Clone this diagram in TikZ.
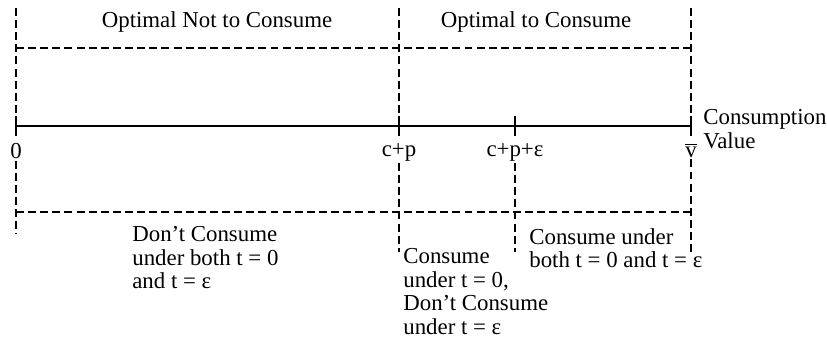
\documentclass[tikz,border=0pt]{standalone}
\usepackage{fontspec}
\setmainfont{Liberation Serif}
\usetikzlibrary{positioning, calc}

\begin{document}
\begin{tikzpicture}[
  x=0.02cm, y=-0.02cm,
  font=\rmfamily\fontsize{13}{13.4}\selectfont,
  guide/.style={black, line width=1.1pt, dash pattern=on 4.5pt off 2.4pt},
  axisline/.style={black, line width=1.2pt},
  ticklbl/.style={anchor=north, inner sep=1pt},
  region/.style={align=left, anchor=north west, inner sep=0pt},
]
\useasboundingbox (0,0) rectangle (827,354);

% ============================================================================
% positions of the axis marks (0, c+p, c+p+eps, vbar) and the rows
% ============================================================================
\pgfmathsetmacro{\xZero}{16}
\pgfmathsetmacro{\xCp}{399}
\pgfmathsetmacro{\xCpe}{515}
\pgfmathsetmacro{\xVbar}{691}
\pgfmathsetmacro{\yTop}{8}
\pgfmathsetmacro{\yUp}{48}
\pgfmathsetmacro{\yAx}{126}
\pgfmathsetmacro{\yLo}{212}

% ============================================================================
% axis with ticks
% ============================================================================
\draw[axisline] (\xZero,\yAx) -- (\xVbar,\yAx);
\foreach \x/\nm in {\xZero/tZero, \xCp/tCp, \xCpe/tCpe, \xVbar/tVbar} {
  \coordinate (\nm) at (\x,\yAx);
  \draw[axisline] (\x,\yAx-10) -- (\x,\yAx+10);
}

\node[ticklbl] (lZero) at ($(tZero)+(0,15)$) {0};
\node[ticklbl] (lCp)   at ($(tCp)+(0,15)$)   {c+p};
\node[ticklbl] (lCpe)  at ($(tCpe)+(0,15)$)  {c+p+ε};
\node[ticklbl] (lVbar) at ($(tVbar)+(0,15)$) {$\overline{\hbox{v}}$};

\node[align=left, anchor=west, inner sep=0pt] (cval) at (703,129)
  {Consumption\\Value};

% ============================================================================
% upper band: optimal / not optimal
% ============================================================================
\coordinate (uZero) at (\xZero,\yTop);
\coordinate (uCp)   at (\xCp,\yTop);
\coordinate (uVbar) at (\xVbar,\yTop);
\draw[guide] (uZero) -- ($(tZero)+(0,-12)$);
\draw[guide] (uCp)   -- ($(tCp)+(0,-12)$);
\draw[guide] (uVbar) -- ($(tVbar)+(0,-12)$);
\draw[guide] (\xZero,\yUp) -- (\xVbar,\yUp);

\node (optNot) at (217,22) {Optimal Not to Consume};
\node (optYes) at (536,22) {Optimal to Consume};

% ============================================================================
% lower band: decisions under t = 0 and t = eps
% ============================================================================
\coordinate (bZero) at (\xZero,234);
\coordinate (bCp)   at (\xCp,252);
\coordinate (bCpe)  at (\xCpe,252);
\coordinate (bVbar) at (\xVbar,252);
\draw[guide] (lZero.south) -- (bZero);
\draw[guide] (lCp.south)   -- (bCp);
\draw[guide] (lCpe.south)  -- (bCpe);
\draw[guide] (lVbar.south) -- (bVbar);
\draw[guide] (\xZero,\yLo) -- (\xVbar,\yLo);

\node[region] (dNone) at (132,226)
  {Don't Consume\\under both t = 0\\and t = ε};
\node[region] (dMid) at (403,248)
  {Consume\\under t = 0,\\Don't Consume\\under t = ε};
\node[region] (dBoth) at (529,228)
  {Consume under\\both t = 0 and t = ε};

\end{tikzpicture}
\end{document}
